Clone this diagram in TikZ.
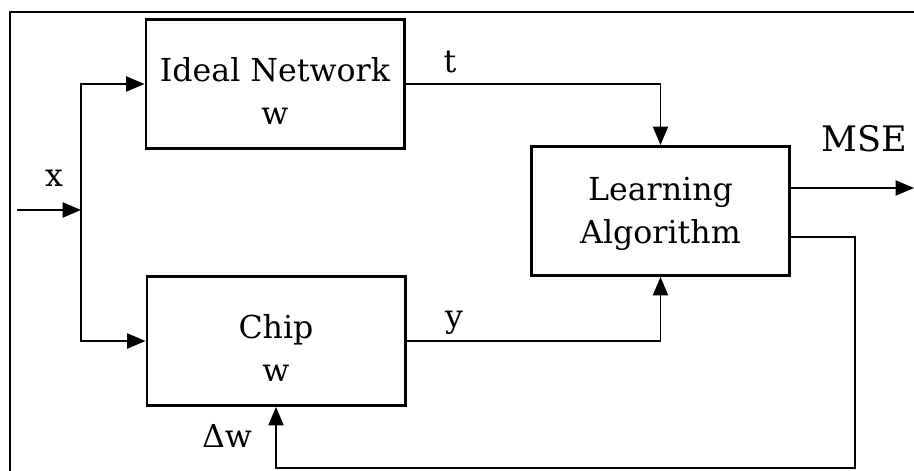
\documentclass[tikz,border=0pt]{standalone}
\usepackage{fontspec}
\setmainfont{DejaVu Serif}
\usetikzlibrary{arrows.meta, calc}

\begin{document}
\begin{tikzpicture}[
  font=\fontsize{18}{24.4}\selectfont,
  %% blocks of the training loop
  block/.style={
    draw, line width=1.7pt, minimum width=5.16cm, minimum height=2.58cm,
    align=center, inner sep=0pt
  },
  %% signal lines
  link/.style={line width=1.1pt},
  sig/.style={
    link, -{Triangle[length=10.5pt,width=8.6pt]}
  },
  lbl/.style={inner sep=0pt},
]

%% ── Canvas and outer frame ───────────────────────────────────────────────────
\useasboundingbox (0,0) rectangle (18.28,9.42);
\draw[line width=1.4pt] (0.20,0) -- (0.20,9.18) -- (18.28,9.18);

%% ── Blocks ───────────────────────────────────────────────────────────────────
\node[block, text height=46pt] (ideal) at (5.50,7.74) {Ideal Network\\w};
\node[block, text height=46pt] (chip)  at (5.52,2.60) {Chip\\w};
\node[block, text height=41pt] (learn) at (13.21,5.20) {Learning\\Algorithm};

%% ── Input x, split to both blocks ────────────────────────────────────────────
\coordinate (xin)    at (0.34,5.22);
\coordinate (xsplit) at (1.62,5.22);
\draw[sig] (xin) -- (xsplit);
\draw[sig] (xsplit) |- (ideal.west);
\draw[sig] (xsplit) |- (chip.west);
\node[lbl] (lblx) at (1.08,5.86) {x};

%% ── Outputs t and y into the learning algorithm ──────────────────────────────
\draw[sig] (ideal.east) -| (learn.north);
\node[lbl] (lblt) at (9.00,8.19) {t};
\draw[sig] (chip.east) -| (learn.south);
\node[lbl] (lbly) at (9.08,2.96) {y};

%% ── MSE out ──────────────────────────────────────────────────────────────────
\coordinate (mseend) at (18.28,5.66);
\draw[sig] ([yshift=0.46cm]learn.east) -- (mseend);
\node[lbl, font=\fontsize{20}{22}\selectfont] (lblmse) at (17.28,6.64) {MSE};

%% ── Weight update back to the chip ───────────────────────────────────────────
\coordinate (fbcorner) at (17.10,0.06);
\draw[sig] ([yshift=-0.52cm]learn.east) -| (fbcorner) -| (chip.south);
\node[lbl] (lbldw) at (4.54,0.70) {Δw};

\end{tikzpicture}
\end{document}
